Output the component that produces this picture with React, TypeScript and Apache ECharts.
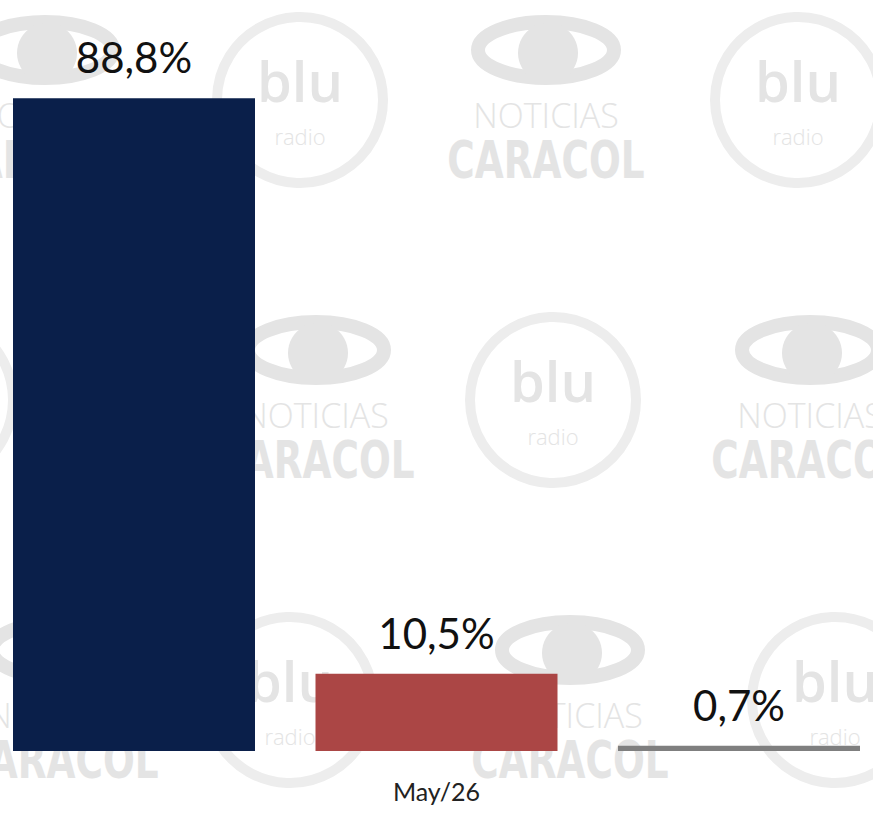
import React, { useEffect, useRef } from "react";
import * as echarts from "echarts";

const categories = ["May/26"];
const seriesNames = ["Serie 1", "Serie 2", "Serie 3"];
const values = [88.8, 10.5, 0.7];
const colors = ["#0a1f4a", "#ab4645", "#7f7f7f"];

const WM = "#e4e4e4";
const WM2 = "#ededed";

function caracol(cx: number, cy: number) {
  return [
    { type: "ellipse", shape: { cx, cy: cy - 55, rx: 68, ry: 28 }, style: { fill: "none", stroke: WM, lineWidth: 14 }, z: 0, silent: true },
    { type: "circle", shape: { cx: cx + 2, cy: cy - 52, r: 30 }, style: { fill: WM }, z: 0, silent: true },
    { type: "text", x: cx, y: cy + 10, style: { text: "NOTICIAS", fill: WM, font: "300 34px 'Open Sans'", align: "center", verticalAlign: "middle" }, z: 0, silent: true },
    { type: "text", x: cx, y: cy + 55, scaleX: 0.72, style: { text: "CARACOL", fill: WM, font: "bold 52px 'DejaVu Sans'", align: "center", verticalAlign: "middle" }, z: 0, silent: true },
  ];
}

function blu(cx: number, cy: number) {
  return [
    { type: "circle", shape: { cx, cy, r: 83 }, style: { fill: "none", stroke: WM2, lineWidth: 10 }, z: 0, silent: true },
    { type: "text", x: cx, y: cy - 20, style: { text: "blu", fill: WM, font: "600 56px 'Open Sans'", align: "center", verticalAlign: "middle" }, z: 0, silent: true },
    { type: "text", x: cx, y: cy + 36, style: { text: "radio", fill: WM, font: "300 22px 'Open Sans'", align: "center", verticalAlign: "middle" }, z: 0, silent: true },
  ];
}

export default function App() {
  const ref = useRef<HTMLDivElement>(null);
  useEffect(() => {
    const chart = echarts.init(ref.current!, null, { renderer: "svg" });
    const elements: any[] = [
      ...caracol(45, 105),
      ...caracol(546, 105),
      ...blu(300, 100),
      ...blu(798, 100),
      ...blu(-70, 400),
      ...caracol(316, 405),
      ...blu(553, 400),
      ...caracol(810, 405),
      ...caracol(60, 705),
      ...blu(290, 700),
      ...caracol(570, 705),
      ...blu(835, 700),
    ];
    chart.setOption({
      animation: false,
      backgroundColor: "#ffffff",
      graphic: { elements },
      grid: { left: 0, right: 0, top: 16, bottom: 63, containLabel: false },
      xAxis: {
        type: "category",
        data: categories,
        axisLine: { show: false },
        axisTick: { show: false },
        axisLabel: { color: "#222", fontSize: 25, fontFamily: "Lato", margin: 27 },
      },
      yAxis: { type: "value", min: 0, max: 100, show: false, splitLine: { show: false } },
      series: seriesNames.map((name, i) => ({
        name,
        type: "bar",
        z: 2,
        barWidth: 242,
        barGap: "25%",
        data: [values[i]],
        itemStyle: { color: colors[i] },
        label: {
          show: true,
          position: "top",
          distance: 20,
          color: "#111",
          fontSize: 42,
          fontFamily: "Lato",
          formatter: (p: any) => p.value.toFixed(1).replace(".", ",") + "%",
        },
      })),
    });
    return () => chart.dispose();
  }, []);
  return (
    <div
      ref={ref}
      style={{ position: "fixed", left: 0, top: 0, width: 873, height: 814 }}
    />
  );
}
